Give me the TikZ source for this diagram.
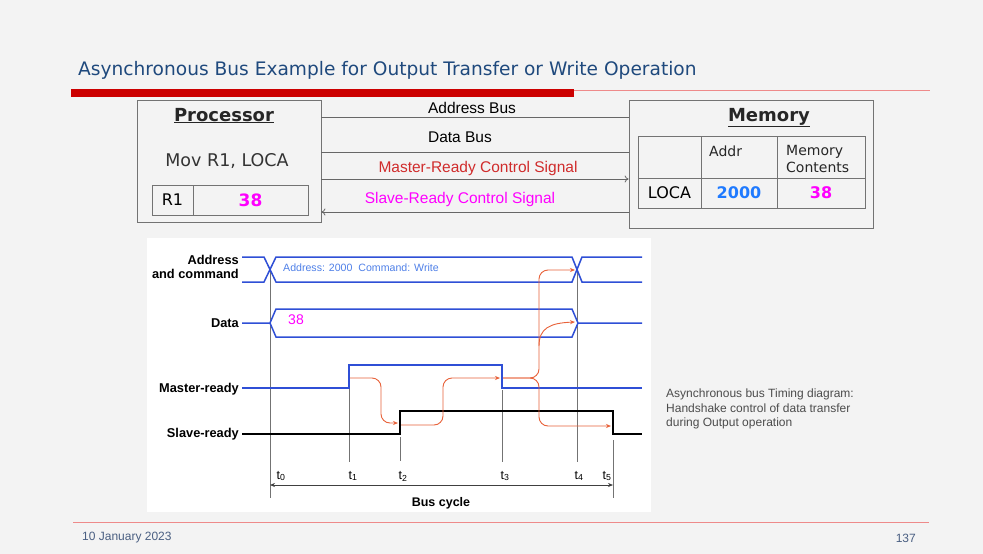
\documentclass[tikz,border=0pt]{standalone}
\usepackage{fontspec}
\setmainfont{DejaVu Sans}
\newfontfamily\arialfont{Liberation Sans}
\usetikzlibrary{arrows.meta,positioning,calc}
\definecolor{SlideBlue}{HTML}{1F497D}
\definecolor{BarRed}{HTML}{CC0000}
\definecolor{LineRed}{HTML}{EE8A8A}
\definecolor{MasterRed}{HTML}{D02C2C}
\definecolor{ValMagenta}{HTML}{FF00FF}
\definecolor{AddrBlue}{HTML}{1F7AFF}
\definecolor{TagBlue}{HTML}{4F80E8}
\definecolor{WaveBlue}{HTML}{2F4FD6}
\definecolor{FlowOrange}{HTML}{E8623A}
\definecolor{FootGray}{HTML}{4A5F82}
\definecolor{SlideBack}{HTML}{F3F3F3}

\begin{document}
\begin{tikzpicture}[x=1pt,y=-1pt,
  box/.style={draw=black!55,line width=0.8pt,inner sep=0pt},
  cell/.style={draw=black!55,line width=0.8pt,inner sep=0pt,font=\fontsize{16}{18}\selectfont},
  buslbl/.style={font=\arialfont\fontsize{15.5}{17}\selectfont,anchor=base,inner sep=0pt},
  busline/.style={black!60,line width=0.8pt},
  wavelbl/.style={font=\arialfont\bfseries\fontsize{12.8}{14}\selectfont,anchor=east,align=right,inner sep=1pt},
  wave/.style={WaveBlue,line width=1.5pt},
  guide/.style={black!55,line width=0.7pt},
  flow/.style={FlowOrange,line width=0.9pt,rounded corners=9pt,-{Stealth[length=5pt,width=4pt]}},
  tlbl/.style={font=\arialfont\fontsize{12.5}{13}\selectfont,inner sep=0pt}]
  \fill[SlideBack] (0,0) rectangle (983,554);
  \useasboundingbox (0,0) rectangle (983,554);
  % title and rule
  \node[anchor=west,inner sep=0pt,text=SlideBlue,font=\fontsize{18.6}{22}\selectfont] (title) at (78,70) {Asynchronous Bus Example for Output Transfer or Write Operation};
  \fill[BarRed] (71,89) rectangle (574,97);
  \draw[LineRed,line width=0.9pt] (574,90) -- (930,90);
  % processor
  \node[box,minimum width=184pt,minimum height=122pt] (proc) at (229,161) {};
  \node[anchor=base,font=\bfseries\fontsize{18}{20}\selectfont,text=black!85] (proctitle) at (224,121) {\underline{Processor}};
  \node[anchor=base,font=\fontsize{17.5}{20}\selectfont,text=black!80] (instr) at (227,166) {Mov R1, LOCA};
  \node[cell,minimum width=41pt,minimum height=30pt] (r1name) at (172.5,200) {R1};
  \node[cell,minimum width=115pt,minimum height=30pt,text=ValMagenta,font=\bfseries\fontsize{17}{19}\selectfont] (r1val) at (250.5,200) {38};
  % memory
  \node[box,minimum width=244pt,minimum height=128pt] (mem) at (751,164) {};
  \node[anchor=base,font=\bfseries\fontsize{18}{20}\selectfont,text=black!85] (memtitle) at (769,121) {\underline{Memory}};
  \node[cell,minimum width=63pt,minimum height=42pt] (c11) at (669.5,157) {};
  \node[cell,minimum width=76pt,minimum height=42pt] (c12) at (739,157) {};
  \node[cell,minimum width=88pt,minimum height=42pt] (c13) at (821,157) {};
  \node[cell,minimum width=63pt,minimum height=30pt] (c21) at (669.5,193) {LOCA};
  \node[cell,minimum width=76pt,minimum height=30pt,text=AddrBlue,font=\bfseries\fontsize{16}{18}\selectfont] (c22) at (739,193) {2000};
  \node[cell,minimum width=88pt,minimum height=30pt,text=ValMagenta,font=\bfseries\fontsize{16}{18}\selectfont] (c23) at (821,193) {38};
  \node[anchor=base west,inner sep=0pt,font=\fontsize{14}{17}\selectfont,text=black!85] (addrhd) at (709,156) {Addr};
  \node[anchor=north west,inner sep=0pt,align=left,font=\fontsize{14}{17}\selectfont,text=black!85] (conthd) at (786,145) {Memory\\Contents};
  % buses
  \foreach \nm/\yy in {ab/117,db/152,mr/179,sr/212}{\coordinate (\nm) at (0,\yy);}
  \node[buslbl] (ablbl) at (472,113) {Address Bus};
  \node[buslbl] (dblbl) at (460,142) {Data Bus};
  \node[buslbl,text=MasterRed] (mrlbl) at (478,172) {Master-Ready Control Signal};
  \node[buslbl,text=ValMagenta] (srlbl) at (460,203) {Slave-Ready Control Signal};
  \draw[busline] (proc.east |- ab) -- (mem.west |- ab);
  \draw[busline] (proc.east |- db) -- (mem.west |- db);
  \draw[busline,-{To[length=4pt,width=7pt]}] (proc.east |- mr) -- (mem.west |- mr);
  \draw[busline,-{To[length=4pt,width=7pt]}] (mem.west |- sr) -- (proc.east |- sr);
  % timing diagram
  \fill[white] (147,238) rectangle (651,512);
  \node[wavelbl] (lbladdr) at (240,267) {Address\\and command};
  \node[wavelbl] (lbldata) at (240,323) {Data};
  \node[wavelbl] (lblmr) at (240,389) {Master-ready};
  \node[wavelbl] (lblsr) at (240,434) {Slave-ready};
  \foreach \xx/\ya/\yb in {270/270/498,349/389/462,400/437/461,502/390/462,577/272/462,613/440/498}{\draw[guide] (\xx,\ya) -- (\xx,\yb);}
  \draw[wave] (242,257) -- (264,257) -- (276,282) -- (572,282) -- (582,257) -- (642,257);
  \draw[wave] (242,282) -- (264,282) -- (276,257) -- (572,257) -- (582,282) -- (642,282);
  \draw[wave] (242,323) -- (270,323) -- (276,309) -- (572,309) -- (578,323) -- (642,323);
  \draw[wave] (270,323) -- (276,337) -- (572,337) -- (578,323);
  \draw[wave] (242,388) -- (349,388) -- (349,365) -- (502,365) -- (502,388) -- (642,388);
  \draw[wave,black] (242,434) -- (400,434) -- (400,411) -- (613,411) -- (613,434) -- (642,434);
  \node[anchor=west,inner sep=0pt,text=TagBlue,font=\arialfont\fontsize{10.6}{12}\selectfont] (addrtag) at (283,268) {Address: 2000\ \ Command: Write};
  \node[inner sep=0pt,text=ValMagenta,font=\arialfont\fontsize{14}{16}\selectfont] (datatag) at (296,320) {38};
  % handshake
  \draw[flow] (350,378) -- (381,378) -- (381,423) -- (398,423);
  \draw[flow] (401,425) -- (443,425) -- (443,378) -- (500,378);
  \draw[flow] (503,378) -- (539,378) -- (539,270) -- (575,270);
  \draw[flow] (503,378) -- (539,378) -- (539,426) -- (611,426);
  \draw[FlowOrange,line width=0.9pt,-{Stealth[length=5pt,width=4pt]}] (539,346) .. controls (539,328) and (550,323) .. (575,322);
  % bus cycle
  \foreach \nm/\xx in {t0/270,t1/349,t2/400,t3/502,t4/577,t5/613}{\coordinate (\nm) at (\xx,485);}
  \draw[black!75,line width=0.7pt,{Stealth[length=5pt,width=4pt]}-{Stealth[length=5pt,width=4pt]}] (t0) -- (t5);
  \foreach \i/\xx in {0/281,1/353,2/403,3/505,4/579,5/607}{\node[tlbl] (tl\i) at (\xx,476) {t\textsubscript{\i}};}
  \node[font=\arialfont\bfseries\fontsize{12.5}{14}\selectfont,inner sep=0pt] (cycle) at (441,503) {Bus cycle};
  % caption
  \node[anchor=north west,inner sep=0pt,align=left,text=black!70,font=\arialfont\fontsize{12}{14.5}\selectfont] (caption) at (666,389) {Asynchronous bus Timing diagram:\\Handshake control of data transfer\\during Output operation};
  % footer
  \draw[LineRed,line width=0.9pt] (73,522) -- (929,522);
  \node[anchor=west,inner sep=0pt,text=FootGray,font=\arialfont\fontsize{12}{14}\selectfont] (date) at (82,538) {10 January 2023};
  \node[anchor=east,inner sep=0pt,text=FootGray,font=\arialfont\fontsize{12}{14}\selectfont] (page) at (916,538) {137};
\end{tikzpicture}
\end{document}
